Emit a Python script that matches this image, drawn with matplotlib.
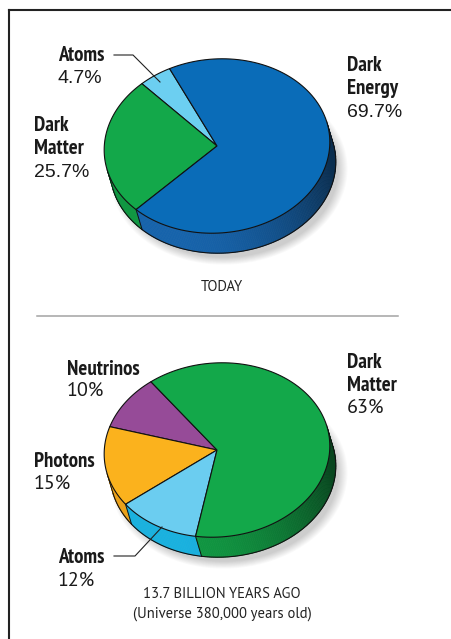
import numpy as np
import matplotlib
matplotlib.use("Agg")
import matplotlib.pyplot as plt
from matplotlib.collections import PolyCollection
from matplotlib.patches import Polygon
from matplotlib.colors import to_rgb

# ---- data -------------------------------------------------------------
today_labels = ["Atoms", "Dark Matter", "Dark Energy"]
today_values = [4.7, 25.7, 69.7]
today_colors = ["#6ccff1", "#13a84a", "#0a6cb8"]
today_side = ["#1ab6e6", "#119c44", "#1766b0"]

early_labels = ["Neutrinos", "Photons", "Atoms", "Dark Matter"]
early_values = [10, 15, 12, 63]
early_colors = ["#964b98", "#fbb21d", "#6bcdf0", "#13a84a"]
early_side = ["#8a4590", "#f2a61a", "#1ab6e6", "#119c44"]

today_caption = ["TODAY"]
early_caption = ["13.7 BILLION YEARS AGO", "(Universe 380,000 years old)"]

# ---- geometry (pixels) ------------------------------------------------
W, H = 451, 639
A, B = 113, 87          # ellipse semi-axes
PHI = np.radians(5)     # tilt of the disc
DX, DY = 6, 20          # thickness offset of the side

COND = ["PT Sans Narrow", "Liberation Sans", "DejaVu Sans"]
HUMAN = ["PT Sans", "Liberation Sans", "DejaVu Sans"]
ARIAL = ["Liberation Sans", "DejaVu Sans"]


def ell(cx, cy, t, dx=0.0, dy=0.0):
    u, v = A * np.cos(t), B * np.sin(t)
    x = u * np.cos(PHI) - v * np.sin(PHI)
    y = u * np.sin(PHI) + v * np.cos(PHI)
    return cx + x + dx, cy - y + dy


def normal(t):
    nu, nv = np.cos(t) / A, np.sin(t) / B
    nx = nu * np.cos(PHI) - nv * np.sin(PHI)
    ny = nu * np.sin(PHI) + nv * np.cos(PHI)
    n = np.hypot(nx, ny)
    return nx / n, ny / n


def facing(t):
    nx, ny = normal(t)
    return nx * DX - ny * DY > 0


def draw_pie(ax, cx, cy, values, colors, side_colors, start):
    fr = np.asarray(values, float) / np.sum(values)
    edges = np.radians(start + 360 * np.concatenate([[0], np.cumsum(fr)]))

    # soft drop shadow, mostly below and to the right
    tt = np.linspace(0, 2 * np.pi, 200)
    for k in range(10):
        s = 0.97 + k * 0.009
        x, y = ell(0, 0, tt)
        ax.fill(cx + 12 + x * s, cy + 27 + y * s, color="black", alpha=0.018,
                lw=0, zorder=1)

    # side wall
    polys, cols = [], []
    for i in range(len(values)):
        n = max(int(np.degrees(edges[i + 1] - edges[i])), 2) + 1
        ts = np.linspace(edges[i], edges[i + 1], n)
        base = np.array(to_rgb(side_colors[i]))
        for t0, t1 in zip(ts[:-1], ts[1:]):
            tm = 0.5 * (t0 + t1)
            if not facing(tm):
                continue
            nx, _ = normal(tm)
            f = 0.97 - 0.12 * max(nx + 0.2, 0) - 0.38 * max(nx, 0) ** 1.5
            x0, y0 = ell(cx, cy, t0)
            x1, y1 = ell(cx, cy, t1)
            polys.append([(x0, y0), (x1, y1), (x1 + DX, y1 + DY), (x0 + DX, y0 + DY)])
            cols.append(tuple(base * f))
    ax.add_collection(PolyCollection(polys, facecolors=cols, edgecolors=cols,
                                     linewidths=0.5, zorder=2))

    # side outlines
    tf = np.linspace(0, 2 * np.pi, 721)
    mask = facing(tf)
    bx, by = ell(cx, cy, tf, DX, DY)
    ax.plot(np.where(mask, bx, np.nan), np.where(mask, by, np.nan),
            color="#111111", lw=0.8, zorder=3)
    idx = np.where(mask != np.roll(mask, 1))[0]
    for t in list(tf[idx]) + [e for e in edges[:-1] if facing(e)]:
        x, y = ell(cx, cy, t)
        ax.plot([x, x + DX], [y, y + DY], color="#111111", lw=0.7, zorder=3)

    # top face
    for i in range(len(values)):
        ts = np.linspace(edges[i], edges[i + 1], 120)
        x, y = ell(cx, cy, ts)
        pts = np.column_stack([np.r_[cx, x], np.r_[cy, y]])
        ax.add_patch(Polygon(pts, closed=True, facecolor=colors[i],
                             edgecolor="#111111", lw=0.8, joinstyle="round", zorder=4))


def label(ax, x, y, name, pct, pct_font, pct_size, step=23, pct_step=23):
    lines = name.split(" ")
    for j, ln in enumerate(lines):
        ax.text(x, y + j * step, ln, family=COND, weight="bold", fontsize=15,
                color="#1a1a1a", va="baseline", ha="left", zorder=5)
    py = y + (len(lines) - 1) * step + pct_step
    ax.text(x, py, pct, family=pct_font, fontsize=pct_size, color="#1a1a1a",
            va="baseline", ha="left", zorder=5)


fig = plt.figure(figsize=(W / 100, H / 100), dpi=100)
ax = fig.add_axes([0, 0, 1, 1])
ax.set_xlim(0, W)
ax.set_ylim(H, 0)
ax.axis("off")

# frame and divider
ax.plot([8.5, W], [9.5, 9.5], color="#222222", lw=1.5, zorder=6)
ax.plot([8.5, 8.5], [9.5, H], color="#222222", lw=1.5, zorder=6)
ax.plot([37, 398], [316, 316], color="#a3a3a3", lw=1.1, zorder=6)

# ---- today ------------------------------------------------------------
draw_pie(ax, 217, 146, today_values, today_colors, today_side, start=111)
today_pos = [(58, 61, 22), (34, 131, 23), (347, 71, 23)]
for name, v, (x, y, ps) in zip(today_labels, today_values, today_pos):
    label(ax, x, y, name, f"{v}%", ARIAL, 14, pct_step=ps)
ax.plot([114, 133, 160], [55, 55, 82], color="#222222", lw=0.8, zorder=5)
ax.text(222, 291, today_caption[0], family=HUMAN, fontsize=10.5, color="#222222",
        ha="center", va="baseline")

# ---- 13.7 billion years ago -------------------------------------------
draw_pie(ax, 217, 450, early_values, early_colors, early_side, start=122)
early_pos = [(67, 375, 21), (34, 467, 22), (58, 563, 23), (347, 368, 22)]
for name, v, (x, y, ps) in zip(early_labels, early_values, early_pos):
    label(ax, x, y, name, f"{v}%", HUMAN, 14.5, pct_step=ps)
ax.plot([114, 135, 162], [556, 556, 527], color="#222222", lw=0.8, zorder=5)
for j, cap in enumerate(early_caption):
    ax.text(222, 598 + j * 20, cap, family=HUMAN, fontsize=10.5, color="#222222",
            ha="center", va="baseline")

fig.savefig("out.png", dpi=100)
